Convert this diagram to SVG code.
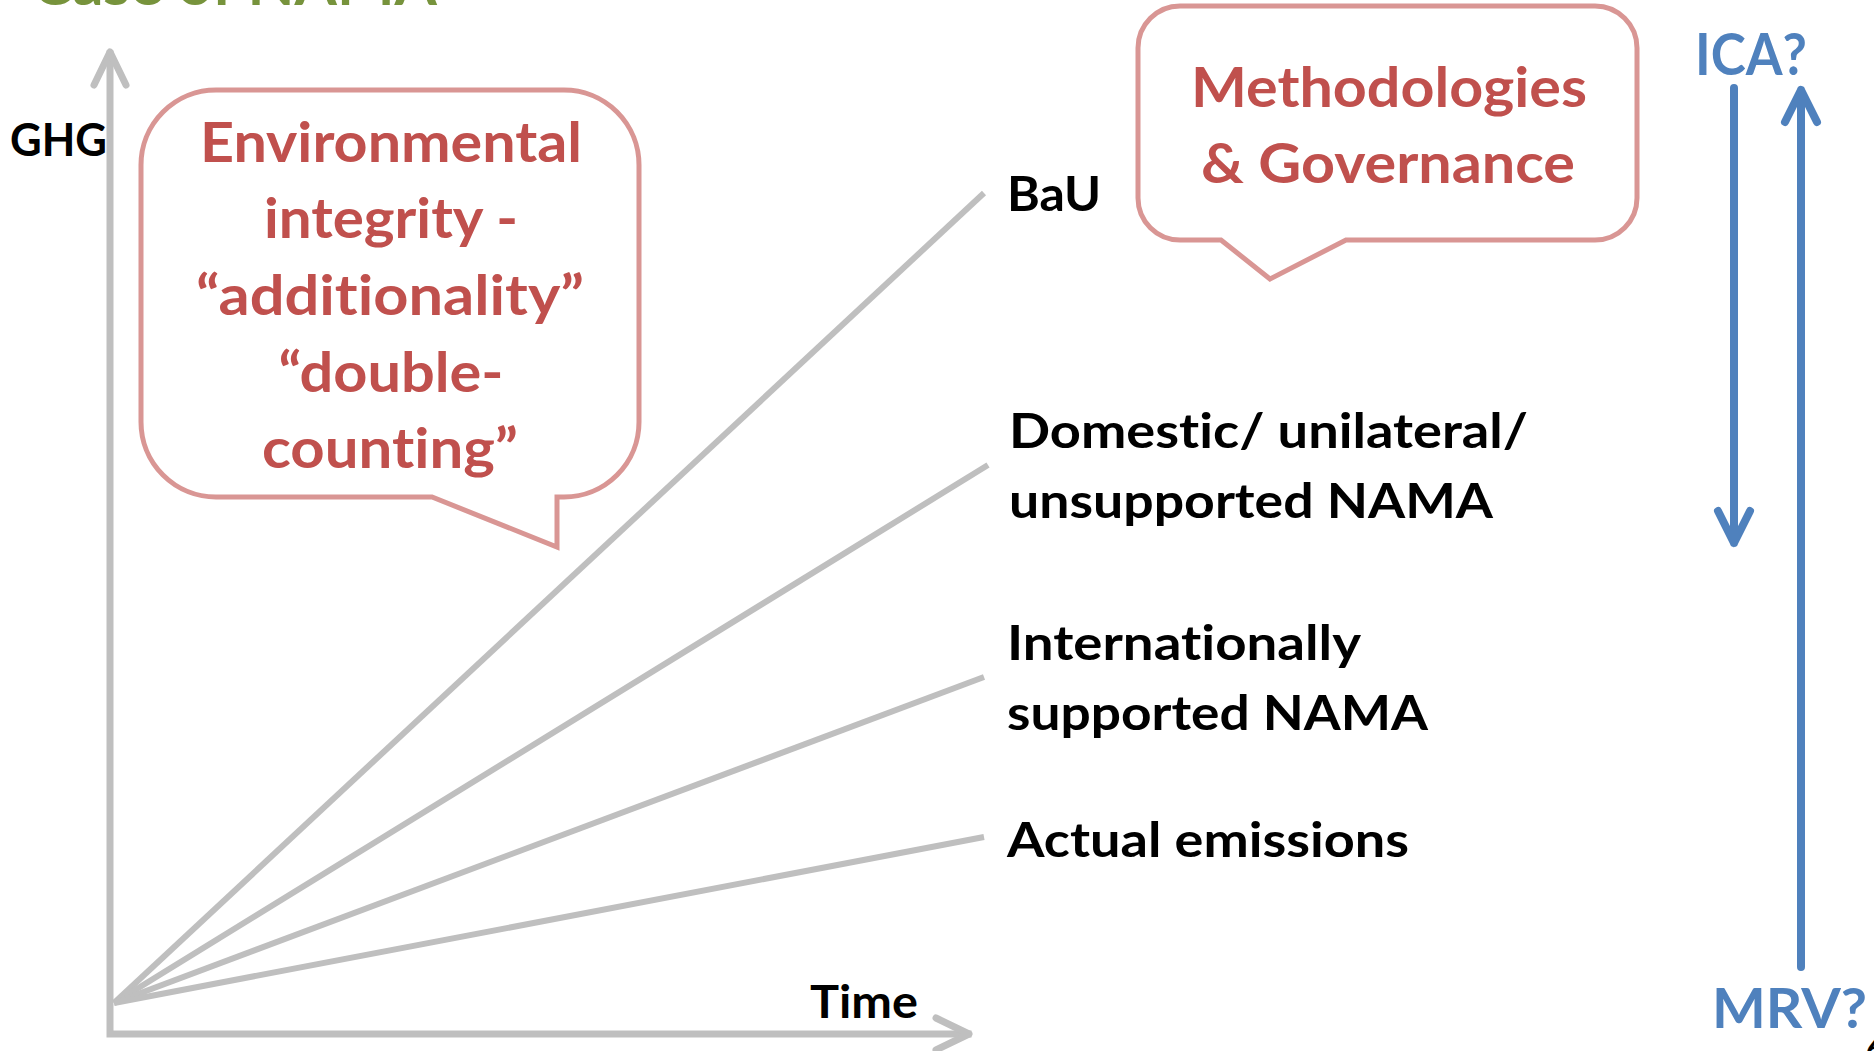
<svg xmlns="http://www.w3.org/2000/svg" width="1874" height="1051" viewBox="0 0 1874 1051">
<style>
text{font-family:Lato,"Open Sans","Liberation Sans",sans-serif;font-weight:700;font-variant-ligatures:none}
.red{fill:#C0504D;font-size:56px;text-anchor:middle}
.blk{fill:#000;font-size:47px}
.blu{fill:#4F81BD;font-size:57px}
.grn{fill:#77933C;font-size:59px}
.ax{stroke:#BFBFBF;stroke-width:7;fill:none;stroke-linecap:round;stroke-linejoin:round}
.ray{stroke:#BFBFBF;stroke-width:6;fill:none}
.bub{fill:#fff;stroke:#D99694;stroke-width:5;stroke-linejoin:miter}
.ba{stroke:#4F81BD;stroke-width:8;fill:none;stroke-linecap:round;stroke-linejoin:round}
</style>
<rect width="1874" height="1051" fill="#fff"/>
<g id="title"><text class="grn" x="32" y="5" textLength="405" lengthAdjust="spacingAndGlyphs">Case of NAMA</text></g>
<g id="connectors">
<path class="ax" d="M110,54 V1034 H968" style="stroke-linecap:square;stroke-linejoin:miter"/>
<path class="ax" d="M94,85 L110,52 L126,85"/>
<path class="ax" d="M936,1018 L969,1034 L936,1050"/>
<line class="ray" x1="114" y1="1003" x2="984" y2="193"/>
<line class="ray" x1="114" y1="1003" x2="988" y2="465"/>
<line class="ray" x1="114" y1="1003" x2="984" y2="677"/>
<line class="ray" x1="114" y1="1003" x2="984" y2="837"/>
<path class="ba" d="M1734,88 V543 M1718,511 L1734,543 L1750,511"/>
<path class="ba" d="M1801,967 V90 M1785,122 L1801,90 L1817,122"/>
</g>
<g id="env-bubble">
<path class="bub" d="M216,90 H564 A75,75 0 0 1 639,165 V422 A75,75 0 0 1 564,497 H557 V547 L432,497 H216 A75,75 0 0 1 141,422 V165 A75,75 0 0 1 216,90 Z"/>
<text class="red" x="391" y="162" textLength="382" lengthAdjust="spacingAndGlyphs">Environmental</text>
<text class="red" x="391" y="238" textLength="254" lengthAdjust="spacingAndGlyphs">integrity -</text>
<text class="red" x="390" y="315" textLength="388" lengthAdjust="spacingAndGlyphs">“additionality”</text>
<text class="red" x="391" y="392" textLength="225" lengthAdjust="spacingAndGlyphs">“double-</text>
<text class="red" x="390" y="468" textLength="256" lengthAdjust="spacingAndGlyphs">counting”</text>
</g>
<g id="meth-bubble">
<path class="bub" d="M1180,6 H1595 A42,42 0 0 1 1637,48 V198 A42,42 0 0 1 1595,240 H1346 L1270,279 L1221,240 H1180 A42,42 0 0 1 1138,198 V48 A42,42 0 0 1 1180,6 Z"/>
<text class="red" x="1389" y="107" textLength="396" lengthAdjust="spacingAndGlyphs">Methodologies</text>
<text class="red" x="1388" y="183" textLength="374" lengthAdjust="spacingAndGlyphs">&amp; Governance</text>
</g>
<g id="ghg"><text class="blk" x="10" y="156" style="font-size:45px" textLength="97" lengthAdjust="spacingAndGlyphs">GHG</text></g>
<g id="time"><text class="blk" x="810" y="1018" style="font-size:45px" textLength="108" lengthAdjust="spacingAndGlyphs">Time</text></g>
<g id="bau"><text class="blk" x="1007" y="211" textLength="94" lengthAdjust="spacingAndGlyphs">BaU</text></g>
<g id="domestic">
<text class="blk" x="1009" y="448" textLength="519" lengthAdjust="spacingAndGlyphs">Domestic/ unilateral/</text>
<text class="blk" x="1009" y="518" textLength="484" lengthAdjust="spacingAndGlyphs">unsupported NAMA</text>
</g>
<g id="international">
<text class="blk" x="1007" y="660" textLength="354" lengthAdjust="spacingAndGlyphs">Internationally</text>
<text class="blk" x="1007" y="730" textLength="421" lengthAdjust="spacingAndGlyphs">supported NAMA</text>
</g>
<g id="actual"><text class="blk" x="1007" y="857" textLength="402" lengthAdjust="spacingAndGlyphs">Actual emissions</text></g>
<g id="ica"><text class="blu" x="1695" y="75" textLength="112" lengthAdjust="spacingAndGlyphs">ICA?</text></g>
<g id="mrv"><text class="blu" x="1712" y="1028" style="font-size:56px" textLength="155" lengthAdjust="spacingAndGlyphs">MRV?</text></g>
<g id="page"><text class="blk" x="1866" y="1060" style="font-size:30px">6</text></g>
</svg>
